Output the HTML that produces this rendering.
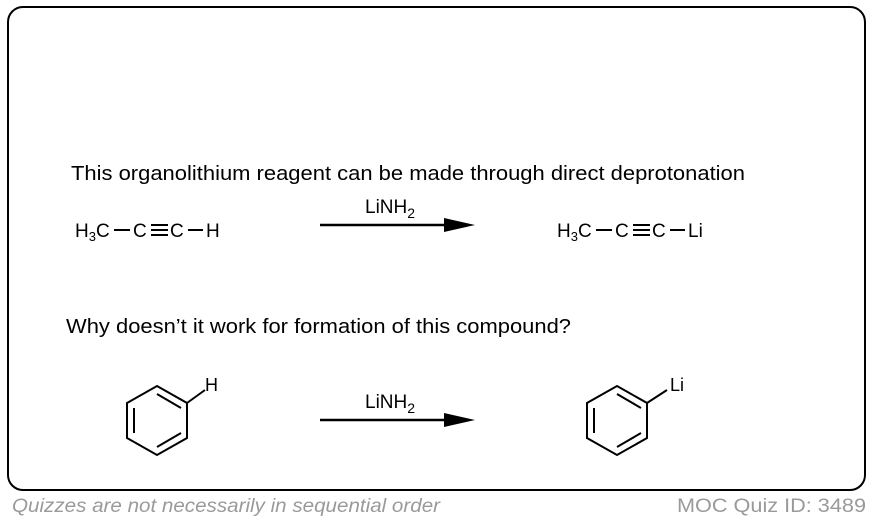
<!DOCTYPE html>
<html><head><style>
body{margin:0;width:872px;height:522px;background:#fff;overflow:hidden;font-family:"Liberation Sans",Arial,sans-serif}
</style></head><body>
<svg width="872" height="522" xmlns="http://www.w3.org/2000/svg" font-family="Liberation Sans, Arial, sans-serif">
<rect x="8" y="7" width="857" height="483" rx="15" fill="#fff" stroke="#000" stroke-width="2"/>
<text x="71" y="180" font-size="20" textLength="674" lengthAdjust="spacingAndGlyphs">This organolithium reagent can be made through direct deprotonation</text>
<g font-size="19">
<text x="75" y="237">H<tspan font-size="13" dy="4">3</tspan><tspan dy="-4">C</tspan></text>
<text x="133" y="237">C</text><text x="170" y="237">C</text><text x="206" y="237">H</text>
<text x="557" y="237">H<tspan font-size="13" dy="4">3</tspan><tspan dy="-4">C</tspan></text>
<text x="615" y="237">C</text><text x="652" y="237">C</text><text x="688" y="237">Li</text>
</g>
<g stroke="#000" stroke-width="2">
<line x1="114" y1="230" x2="130" y2="230"/><line x1="188" y1="230" x2="203" y2="230"/>
<line x1="151" y1="225" x2="168" y2="225"/><line x1="151" y1="230" x2="168" y2="230"/><line x1="151" y1="235" x2="168" y2="235"/>
<line x1="596" y1="230" x2="612" y2="230"/><line x1="670" y1="230" x2="685" y2="230"/>
<line x1="633" y1="225" x2="650" y2="225"/><line x1="633" y1="230" x2="650" y2="230"/><line x1="633" y1="235" x2="650" y2="235"/>
</g>
<text x="365" y="213" font-size="19">LiNH<tspan font-size="14" dy="5">2</tspan></text>
<line x1="320" y1="225" x2="450" y2="225" stroke="#000" stroke-width="2.5"/>
<polygon points="444,218 475,225 444,232" fill="#000"/>
<text x="66" y="333" font-size="20" textLength="505" lengthAdjust="spacingAndGlyphs">Why doesn’t it work for formation of this compound?</text>
<text x="365" y="408" font-size="19">LiNH<tspan font-size="14" dy="5">2</tspan></text>
<line x1="320" y1="420" x2="450" y2="420" stroke="#000" stroke-width="2.5"/>
<polygon points="444,413 475,420 444,427" fill="#000"/>
<g fill="none" stroke="#000" stroke-width="2">
<polygon points="157,386 187,403 187,438 157,455 127,438 127,403"/>
<line x1="157" y1="394" x2="181" y2="408"/>
<line x1="181" y1="433" x2="157" y2="447"/>
<line x1="134" y1="408" x2="134" y2="433"/>
<line x1="187" y1="403" x2="205" y2="390"/>
<polygon points="617,386 647,403 647,438 617,455 587,438 587,403"/>
<line x1="617" y1="394" x2="641" y2="408"/>
<line x1="641" y1="433" x2="617" y2="447"/>
<line x1="594" y1="408" x2="594" y2="433"/>
<line x1="647" y1="403" x2="667" y2="390"/>
</g>
<text x="205" y="391" font-size="18">H</text>
<text x="670" y="391" font-size="18">Li</text>
<text x="12" y="512" font-size="19" font-style="italic" fill="#9a9a9a" textLength="428" lengthAdjust="spacingAndGlyphs">Quizzes are not necessarily in sequential order</text>
<text x="677" y="512" font-size="19" fill="#9a9a9a" textLength="189" lengthAdjust="spacingAndGlyphs">MOC Quiz ID: 3489</text>
</svg>
</body></html>
